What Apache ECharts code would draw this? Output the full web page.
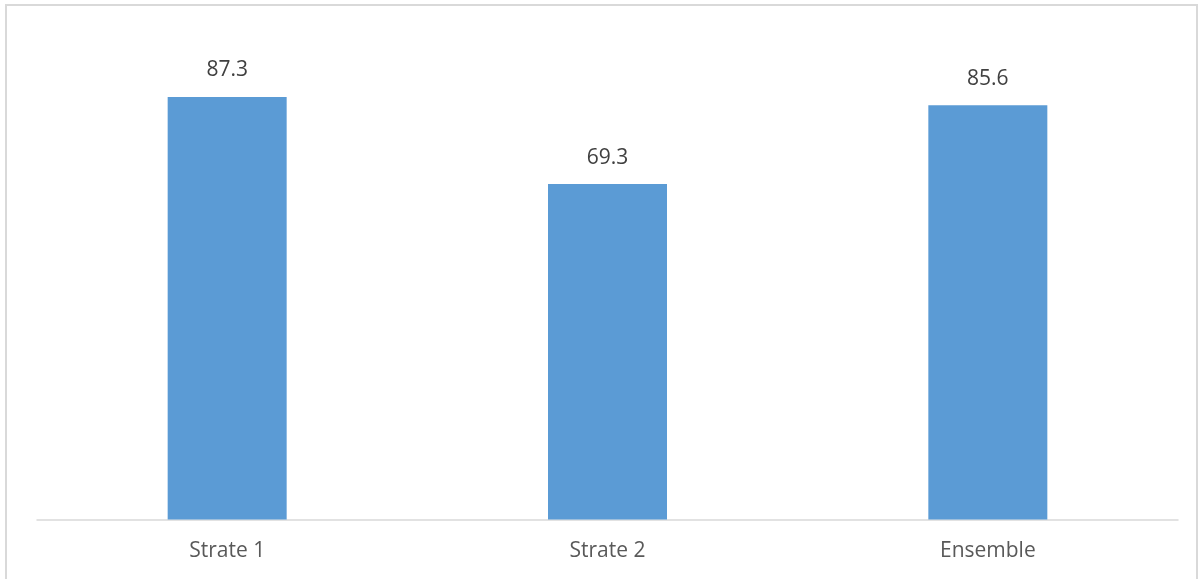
<!DOCTYPE html>
<html>
<head>
<meta charset="utf-8">
<script src="https://cdn.jsdelivr.net/npm/echarts@6/dist/echarts.min.js"></script>
<style>
  html, body { margin: 0; padding: 0; background: #ffffff; }
  #chart { width: 1202px; height: 579px; }
</style>
</head>
<body>
<div id="chart"></div>
<script>
// Categories and their scores
const categories = ['Strate 1', 'Strate 2', 'Ensemble'];
const scores = [87.3, 69.3, 85.6];

const chart = echarts.init(document.getElementById('chart'));
chart.setOption({
  animation: false,
  backgroundColor: '#ffffff',
  textStyle: { fontFamily: 'Open Sans' },
  graphic: [{
    type: 'rect',
    shape: { x: 6, y: 5, width: 1191, height: 590 },
    style: { fill: 'none', stroke: '#d9d9d9', lineWidth: 2 },
    silent: true
  }],
  grid: { left: 37, right: 24, top: 35.5, bottom: 59.5 },
  xAxis: {
    type: 'category',
    data: categories,
    axisLine: { show: true, lineStyle: { color: '#d9d9d9', width: 1.5 } },
    axisTick: { show: false },
    axisLabel: { color: '#595959', fontSize: 21, margin: 21, fontFamily: 'Open Sans' }
  },
  yAxis: {
    type: 'value',
    min: 0,
    max: 100,
    show: false,
    splitLine: { show: false }
  },
  series: [{
    type: 'bar',
    data: scores,
    barWidth: 119,
    itemStyle: { color: '#5b9bd5' },
    label: {
      show: true,
      position: 'top',
      distance: 16,
      color: '#404040',
      fontSize: 21,
      fontFamily: 'Open Sans',
      formatter: p => p.value.toFixed(1)
    }
  }]
});
</script>
</body>
</html>
